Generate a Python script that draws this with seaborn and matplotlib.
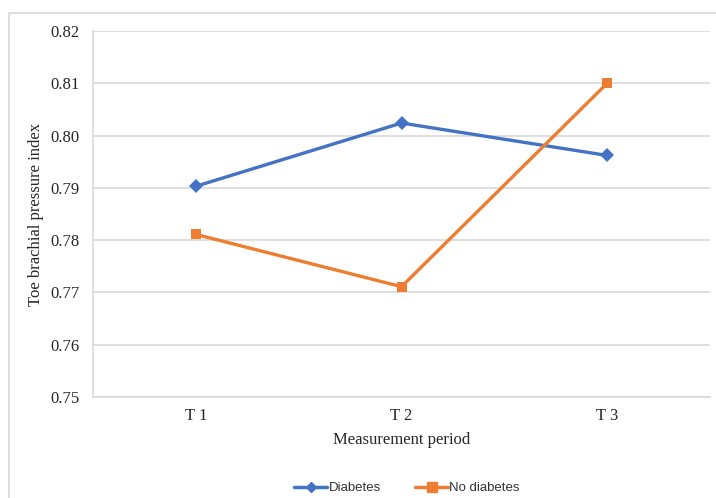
import numpy as np
import pandas as pd
import seaborn as sns
import matplotlib.pyplot as plt
from matplotlib.patches import Rectangle

periods = ["T 1", "T 2", "T 3"]
diabetes = [0.7903, 0.8024, 0.7962]
no_diabetes = [0.7811, 0.7711, 0.8100]
y_ticks = [0.75, 0.76, 0.77, 0.78, 0.79, 0.80, 0.81, 0.82]

df = pd.DataFrame({
    "Period": periods * 2,
    "Value": diabetes + no_diabetes,
    "Group": ["Diabetes"] * 3 + ["No diabetes"] * 3,
})

sns.set_style("white")
plt.rcParams['font.family'] = ['Liberation Serif', 'DejaVu Serif']
serif = ['Liberation Serif', 'DejaVu Serif']

fig = plt.figure(figsize=(7.16, 4.98), dpi=100)
ax = fig.add_axes([93 / 716, 101 / 498, 617 / 716, 366 / 498])

palette = {"Diabetes": "#4472C4", "No diabetes": "#ED7D31"}
sns.lineplot(data=df, x="Period", y="Value", hue="Group", style="Group",
             markers={"Diabetes": "D", "No diabetes": "s"}, dashes=False,
             palette=palette, linewidth=2.4, markersize=7.5, markeredgewidth=0,
             ax=ax, legend=False, sort=False)

ax.set_ylim(0.75, 0.82)
ax.set_xlim(-0.5, 2.5)
ax.set_yticks(y_ticks)
ax.set_yticklabels([f"{v:.2f}" for v in y_ticks], fontfamily=serif)
ax.set_xticks(range(len(periods)))
ax.set_xticklabels(periods, fontfamily=serif)
ax.yaxis.grid(True, color="#d9d9d9", linewidth=1.2)
ax.set_axisbelow(True)
for s in ["top", "right"]:
    ax.spines[s].set_visible(False)
for s in ["left", "bottom"]:
    ax.spines[s].set_color("#d9d9d9")
    ax.spines[s].set_linewidth(1.2)
ax.tick_params(axis="both", length=0, labelsize=12, colors="#262626")
ax.tick_params(axis="y", pad=9.5)
ax.tick_params(axis="x", pad=8)
ax.set_xlabel("Measurement period", fontsize=12, color="#262626", labelpad=6,
              fontfamily=serif)
ax.set_ylabel("Toe brachial pressure index", fontsize=12, color="#262626",
              labelpad=5, fontfamily=serif)

handles = [plt.Line2D([], [], color="#4472C4", marker="D", markersize=5.5, linewidth=2.5),
           plt.Line2D([], [], color="#ED7D31", marker="s", markersize=6.5, linewidth=2.5)]
fig.legend(handles, ["Diabetes", "No diabetes"], loc="center",
           bbox_to_anchor=(407 / 716, 10 / 498), ncol=2, frameon=False,
           prop={"family": "Liberation Sans", "size": 9.5}, handlelength=2.5,
           handletextpad=0.1, columnspacing=2.6, labelcolor="#333333")

fig.patches.append(Rectangle((8.5 / 716, -0.1), 1.2, (498 - 13.5) / 498 + 0.1,
                             transform=fig.transFigure, fill=False,
                             edgecolor="#d9d9d9", linewidth=1.2))

fig.savefig("out.png", dpi=100, facecolor="white")
